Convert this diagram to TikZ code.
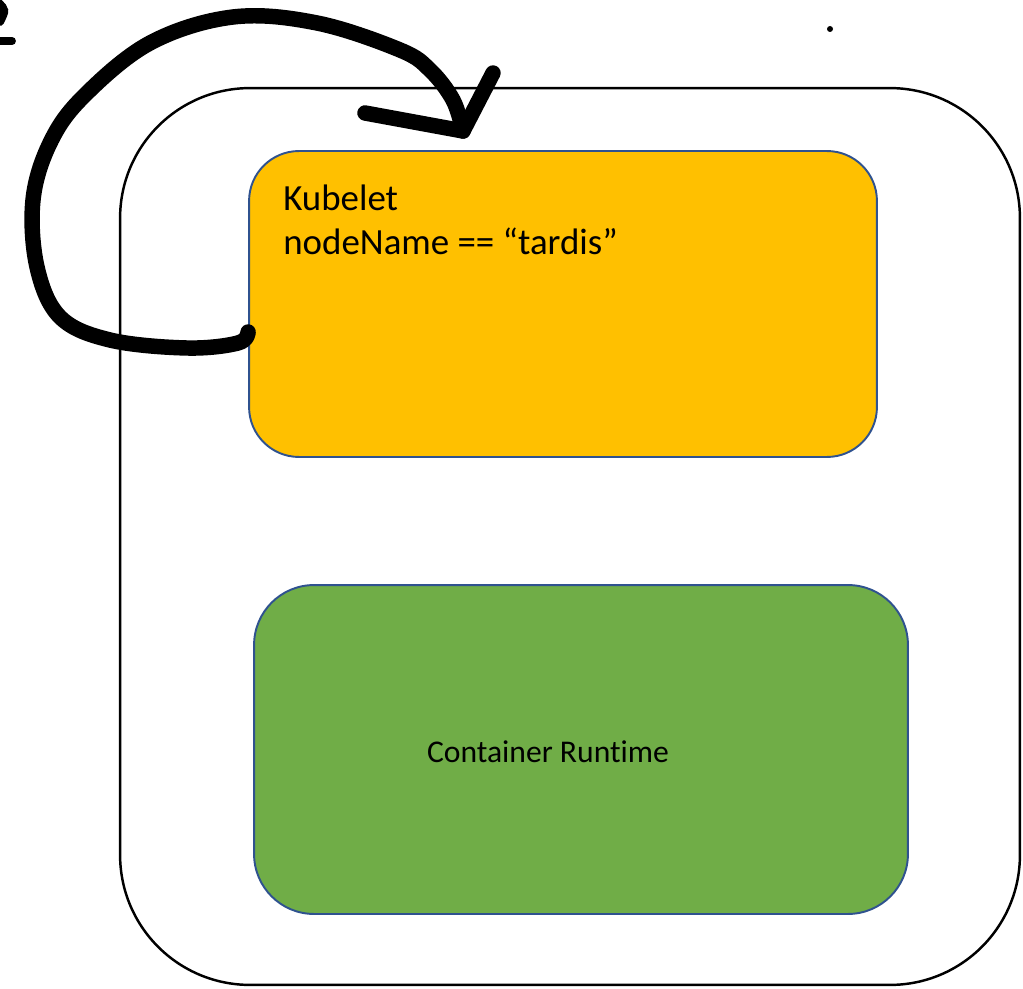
\documentclass[tikz,border=0pt]{standalone}
\usepackage{fontspec}
\setmainfont[Ligatures=NoCommon]{Carlito}
\usetikzlibrary{positioning}
\definecolor{boxyellow}{HTML}{FFC000}
\definecolor{boxgreen}{HTML}{70AD47}
\definecolor{boxline}{HTML}{2F528F}
\tikzset{
  nodebox/.style={draw=black,line width=1.4pt,rectangle,rounded corners=2.6cm,
    minimum width=18cm,minimum height=17.94cm,inner sep=0pt},
  partbox/.style={draw=boxline,line width=1.1pt,rectangle,inner sep=0pt},
  pen/.style={line width=8.8pt,line cap=round,line join=round}
}
\begin{document}
\begin{tikzpicture}[x=0.02cm,y=-0.02cm]
\useasboundingbox (0,0) rectangle (1023,989);
% ---------- worker node ----------
\node[nodebox] (worker) at (570,536.5) {};
% ---------- kubelet ----------
\node[partbox,fill=boxyellow,rounded corners=1cm,
      minimum width=12.56cm,minimum height=6.12cm] (kubelet) at (563,304) {};
\node[anchor=north west,align=left,inner sep=0pt,
      font=\fontsize{21}{25}\selectfont] (kubelettext) at (283,185)
  {Kubelet\\nodeName == “tardis”};
% ---------- container runtime ----------
\node[partbox,fill=boxgreen,rounded corners=1.2cm,
      minimum width=13.08cm,minimum height=6.58cm] (runtime) at (581,749.5) {};
\node[inner sep=0pt,font=\fontsize{18}{22}\selectfont] (runtimetext) at (548,752)
  {Container Runtime};
% ---------- hand-drawn loop back to the kubelet ----------
\coordinate (loopstart) at (kubelet.west |- 0,332);
\coordinate (looptip) at (463,131);
\draw[pen] plot[smooth,tension=0.6] coordinates {
  (loopstart) (238,343) (187,348) (110,340) (60,317) (37,267) (33,200)
  (50,143) (83,97) (150,43) (233,17) (317,23) (400,50) (430,70)
  (453,100) (looptip)};
\draw[pen] (365,113) -- (looptip) -- (493,73);
% ---------- stray marks ----------
\draw[line width=4.5pt,line cap=round] (-2,2) .. controls (6,10) .. (0,22);
\draw[line width=4.5pt,line cap=round] (-2,41) -- (12,41);
\fill (830,29) circle (3);
\end{tikzpicture}
\end{document}
